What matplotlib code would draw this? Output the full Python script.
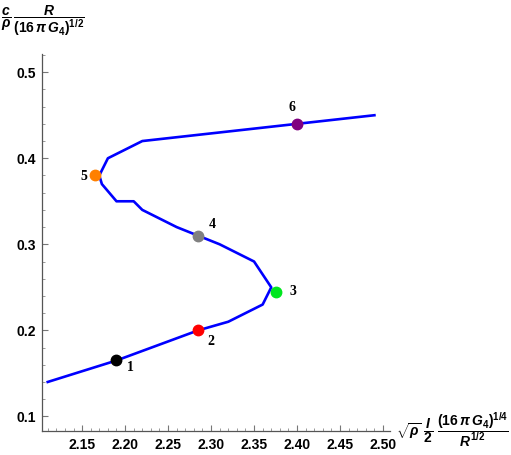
import matplotlib
matplotlib.use('Agg')
import matplotlib.pyplot as plt
from matplotlib.ticker import MultipleLocator

plt.rcParams['mathtext.fontset'] = 'custom'
plt.rcParams['mathtext.rm'] = 'Liberation Sans:bold'
plt.rcParams['mathtext.it'] = 'Liberation Sans:bold:italic'
plt.rcParams['mathtext.bf'] = 'Liberation Sans:bold'

# кривая
curve_x = [2.11, 2.19, 2.285, 2.32, 2.36, 2.37, 2.35, 2.31, 2.285, 2.26, 2.22,
           2.21, 2.19, 2.173, 2.17, 2.18, 2.22, 2.40, 2.49]
curve_y = [0.14, 0.165, 0.20, 0.21, 0.23, 0.25, 0.28, 0.30, 0.31, 0.32, 0.34,
           0.35, 0.35, 0.37, 0.38, 0.40, 0.42, 0.44, 0.45]

# отмеченные точки
pts_x = [2.19, 2.285, 2.3755, 2.285, 2.1655, 2.40]
pts_y = [0.165, 0.20, 0.245, 0.31, 0.38, 0.44]
pts_names = ['1', '2', '3', '4', '5', '6']
pts_colors = ['black', '#ff0000', '#00e61e', '#808080', '#ff8000', '#800080']
# сдвиг подписей в пунктах
pts_offsets = [(10, -5), (9, -8), (12, 0), (10, 8), (-8, -1), (-4, 12)]

fig = plt.figure(figsize=(5.11, 4.55), dpi=100)
ax = fig.add_axes([0.0816, 0.0527, 0.6814, 0.8283])

ax.plot(curve_x, curve_y, color='#0000ff', lw=1.9, zorder=2)
for x, y, c, name, off in zip(pts_x, pts_y, pts_colors, pts_names, pts_offsets):
    ax.plot(x, y, 'o', color=c, ms=7.5, zorder=3)
    ax.annotate(name, (x, y), xytext=off, textcoords='offset points',
                ha='center', va='center', fontsize=10, fontweight='bold',
                family='Liberation Serif')

ax.set_xlim(2.103, 2.508)
ax.set_ylim(0.083, 0.521)

for s in ['top', 'right']:
    ax.spines[s].set_visible(False)
for s in ['left', 'bottom']:
    ax.spines[s].set_color('#555555')
    ax.spines[s].set_linewidth(0.9)

ax.xaxis.set_major_locator(MultipleLocator(0.05))
ax.xaxis.set_minor_locator(MultipleLocator(0.01))
ax.yaxis.set_major_locator(MultipleLocator(0.1))
ax.yaxis.set_minor_locator(MultipleLocator(0.02))
ax.set_xticks([2.15, 2.20, 2.25, 2.30, 2.35, 2.40, 2.45, 2.50])
ax.set_xticklabels(['2.15', '2.20', '2.25', '2.30', '2.35', '2.40', '2.45', '2.50'])
ax.set_yticks([0.1, 0.2, 0.3, 0.4, 0.5])
ax.set_yticklabels(['0.1', '0.2', '0.3', '0.4', '0.5'])

ax.tick_params(which='major', direction='in', length=4.5, width=0.8, color='#777777')
ax.tick_params(which='minor', direction='in', length=2.5, width=0.7, color='#999999')
ax.tick_params(axis='x', which='major', pad=5)
ax.tick_params(axis='y', which='major', pad=4)
for lab in ax.get_xticklabels() + ax.get_yticklabels():
    lab.set_fontfamily('Liberation Sans')
    lab.set_fontweight('bold')
    lab.set_fontsize(10)

# подписи осей
fig.text(0.083, 0.954, r'$\dfrac{c}{\rho}\,\dfrac{R}{(16\,\pi\,G_4)^{1/2}}$',
         ha='center', va='center', fontsize=10)
fig.text(0.886, 0.055, r'$\sqrt{\rho}\ \dfrac{I}{2}\ \dfrac{(16\,\pi\,G_4)^{1/4}}{R^{1/2}}$',
         ha='center', va='center', fontsize=10)

fig.savefig('out.png', dpi=100)
